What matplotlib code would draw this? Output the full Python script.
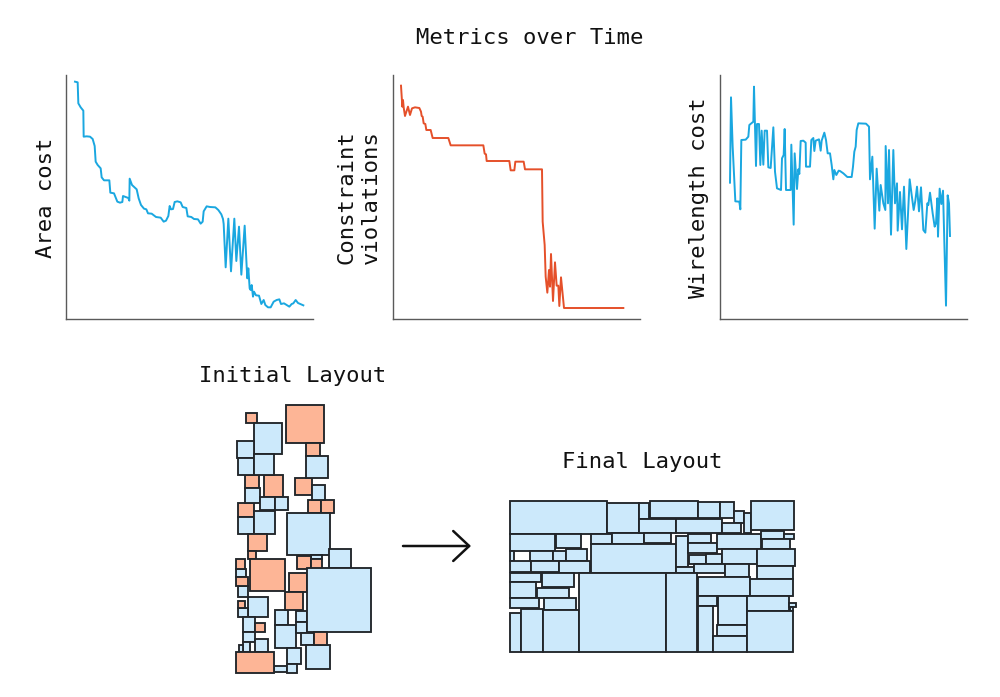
import matplotlib
matplotlib.use("Agg")
import matplotlib.pyplot as plt
from matplotlib.patches import Rectangle

W, H = 1000, 697
FONT = "DejaVu Sans Mono"
BLUE, ORANGE, EDGE = "#CCE9FB", "#FDB596", "#22262A"
LINE_BLUE, LINE_RED, SPINE = "#1AA7E0", "#E5502A", "#5A5A5A"

# Metric traces (time step, value)
area_t = [45,53,55,62,70,71,80,90,98,104,107,113,122,125,132,148,151,162,172,180,187,189,197,205,208,209,216,230,236,243,252,259,264,275,288,302,311,318,325,329,333,339,344,352,362,368,379,383,394,402,414,422,428,431,440,450,466,475,484,489,491,497,505,513,523,529,537,544,554,560,562,565,569,572,575,579,582,588,597,604,611,616,624,632,641,650,658,663,672,688,695,700,707,714,730]
area_v = [965,963,900,888,878,800,801,800,793,772,725,715,705,678,669,669,632,630,605,602,604,622,619,616,608,674,655,642,615,595,584,582,570,569,559,557,545,548,562,592,582,583,604,606,603,589,586,561,559,553,552,539,545,576,591,589,588,580,567,553,538,408,554,396,554,427,530,386,533,410,375,405,345,340,355,320,335,324,323,298,310,295,288,288,305,310,312,298,300,290,298,300,310,301,294]
viol_t = [33,37,39,41,45,54,60,66,75,88,93,95,98,101,106,109,122,128,175,182,280,284,288,290,358,362,373,376,401,405,456,458,464,467,472,477,480,483,489,495,500,505,508,513,522,700]
viol_v = [953,890,910,888,862,890,865,885,888,886,875,862,860,840,838,820,820,796,796,774,774,749,747,727,727,699,699,725,725,702,702,545,475,380,332,400,350,448,307,423,353,353,292,378,286,286]
wire_t = [45,48,53,61,73,76,79,92,100,103,115,117,123,126,132,136,140,145,149,156,160,167,175,180,186,198,201,206,209,213,227,229,236,239,246,250,253,257,265,272,273,285,289,295,298,302,312,317,320,328,333,338,345,350,355,358,364,371,375,385,397,410,414,418,422,425,430,453,462,465,472,479,485,493,497,505,511,512,519,522,528,535,540,546,548,555,561,567,574,584,590,596,601,606,612,618,625,631,637,640,645,653,659,663,667,669,674,679,684,693,698,702,705]
wire_v = [662,918,770,606,605,582,790,791,800,835,845,950,712,838,838,715,818,716,818,818,708,706,828,695,645,640,735,745,823,640,640,776,536,750,643,702,688,787,788,782,710,710,790,796,757,788,792,758,788,812,790,750,750,715,672,700,685,698,697,690,679,679,710,755,770,820,840,839,830,672,740,524,704,578,655,600,580,772,600,760,506,760,600,660,518,634,522,650,463,672,625,580,608,650,576,648,520,512,600,595,632,570,530,540,615,500,644,598,638,293,624,600,502]

panel_titles = ["Area cost", "Constraint\nviolations", "Wirelength cost"]
title_text = "Metrics over Time"
initial_title = "Initial Layout"
final_title = "Final Layout"

# Block outlines of the initial layout: (x0, y0, x1, y1, kind)
initial_upper = [
    (64,53,96,85,"o"),(184,29,298,143,"o"),(242,143,284,183,"o"),(60,240,101,280,"o"),(116,240,175,305,"o"),
    (211,249,260,299,"o"),(249,314,288,355,"o"),(288,314,328,355,"o"),(39,323,88,367,"o"),
    (86,85,170,176,"b"),(35,137,86,189,"b"),(39,189,86,240,"b"),(86,176,148,240,"b"),(242,183,308,249,"b"),
    (260,271,301,314,"b"),(60,280,104,323,"b"),(104,307,150,346,"b"),(150,305,188,346,"b"),(39,367,88,417,"b"),
    (88,348,151,417,"b"),
]
initial_lower = [
    (186,-66,314,60,"b"),(313,41,378,100,"b"),(257,60,290,73,"b"),(34,102,64,127,"b"),(40,153,70,187,"b"),
    (70,187,130,247,"b"),(39,218,70,247,"b"),(149,226,188,271,"b"),(214,228,246,262,"b"),(149,271,214,340,"b"),
    (214,262,246,293,"b"),(54,247,90,292,"b"),(54,292,90,320,"b"),(54,320,75,352,"b"),(89,311,130,352,"b"),
    (42,330,54,352,"b"),(228,293,267,329,"b"),(242,329,315,401,"b"),(185,340,229,387,"b"),(148,393,185,411,"b"),
    (185,388,216,413,"b"),
    (70,-3,125,49,"o"),(70,49,93,73,"o"),(34,73,60,102,"o"),(76,72,180,169,"o"),(34,127,70,153,"o"),
    (216,62,257,101,"o"),(257,73,290,101,"o"),(191,114,246,172,"o"),(180,172,235,226,"o"),(39,197,59,218,"o"),
    (90,265,119,292,"o"),(34,352,148,413,"o"),
    (246,100,437,292,"b"),(267,292,305,329,"o"),
]
# Block outlines of the final layout: (x0, y0, x1, y1)
final_left = [
    (29,32,321,133),(321,38,417,128),(417,38,447,86),(29,133,166,182),(169,133,243,175),(272,133,335,162),
    (335,128,431,162),(29,182,43,214),(91,182,160,214),(160,182,197,214),(197,178,260,214),(29,214,92,245),
    (92,214,178,245),(178,214,270,248),(272,162,527,248),(29,248,123,276),(126,250,223,292),(29,276,108,324),
    (110,294,207,324),(29,324,118,355),(131,324,229,359),(29,370,64,487),(64,357,130,487),(130,360,238,487),
    (238,250,499,487),
]
final_right = [
    (14,32,159,84),(159,36,225,84),(225,36,266,84),(266,64,298,99),(298,68,319,130),(319,32,448,120),
    (-18,86,93,128),(93,86,232,130),(232,99,287,130),(-4,128,78,160),(92,138,129,232),(129,133,197,158),
    (129,160,217,190),(217,132,348,178),(348,122,418,146),(418,132,446,146),(350,148,434,178),(131,196,182,222),
    (182,192,230,222),(230,178,335,222),(335,178,449,228),(92,232,148,248),(148,222,239,250),(239,222,313,260),
    (335,228,444,266),(159,260,314,318),(314,266,444,318),(159,318,216,348),(219,318,307,404),(307,318,432,362),
    (432,340,452,352),(434,352,445,362),(159,348,204,487),(216,404,307,438),(204,438,307,487),(307,362,445,487),
    (64,250,157,487),
]

fig = plt.figure(figsize=(W / 100, H / 100), dpi=100, facecolor="white")

def pixel_axes(left, right, top, bottom):
    return fig.add_axes([left / W, 1 - bottom / H, (right - left) / W, (bottom - top) / H])

panels = [
    (66, 313, area_t, area_v, LINE_BLUE, (18, 759), panel_titles[0], 45.5),
    (393, 640, viol_t, viol_v, LINE_RED, (9, 750), panel_titles[1], 359),
    (720, 967, wire_t, wire_v, LINE_BLUE, (15, 756), panel_titles[2], 699),
]
for left, right, t, v, color, xlim, label, lx in panels:
    ax = pixel_axes(left, right, 75, 319)
    ax.plot(t, v, color=color, lw=1.4, solid_joinstyle="round")
    ax.set_xlim(*xlim)
    ax.set_ylim(253, 985)
    ax.set_xticks([])
    ax.set_yticks([])
    ax.spines[["top", "right"]].set_visible(False)
    ax.spines[["left", "bottom"]].set_color(SPINE)
    ax.spines[["left", "bottom"]].set_linewidth(1.0)
    fig.text(lx / W, 1 - 197.5 / H, label, rotation=90, ha="center", va="center",
             family=FONT, fontsize=16, color="#111111", linespacing=1.3)

canvas = fig.add_axes([0, 0, 1, 1], zorder=-1)
canvas.set_xlim(0, W)
canvas.set_ylim(H, 0)
canvas.axis("off")

def draw(blocks, ox, oy, default="b"):
    for b in blocks:
        x0, y0, x1, y1 = b[:4]
        kind = b[4] if len(b) > 4 else default
        canvas.add_patch(Rectangle((ox + x0 / 3, oy + y0 / 3), (x1 - x0) / 3, (y1 - y0) / 3,
                                   facecolor=BLUE if kind == "b" else ORANGE,
                                   edgecolor=EDGE, lw=1.35, joinstyle="miter"))

draw(initial_upper, 225, 395)
draw(initial_lower, 225, 535)
draw(final_left, 500, 490)
draw(final_right, 645, 490)

canvas.annotate("", xy=(471, 546), xytext=(403, 546),
                arrowprops=dict(arrowstyle="->,head_length=0.82,head_width=0.77", lw=1.8,
                                color="#111111", shrinkA=0, shrinkB=0, mutation_scale=14))

canvas.text(530, 37.5, title_text, ha="center", va="center", family=FONT, fontsize=16, color="#111111")
canvas.text(293, 376.5, initial_title, ha="center", va="center", family=FONT, fontsize=16, color="#111111")
canvas.text(642, 462.5, final_title, ha="center", va="center", family=FONT, fontsize=16, color="#111111")

fig.savefig("out.png", dpi=100)
